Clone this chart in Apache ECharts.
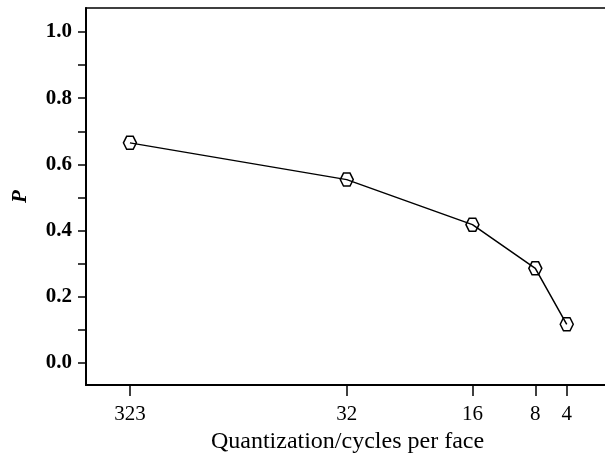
<!DOCTYPE html>
<html>
<head>
<meta charset="utf-8">
<script src="https://cdn.jsdelivr.net/npm/echarts@6/dist/echarts.min.js"></script>
<style>
html,body{margin:0;padding:0;background:#fff;}
#chart{width:605px;height:453px;}
</style>
</head>
<body>
<div id="chart"></div>
<script>
// Quantization categories (cycles per face) and their positions on the printed axis
var categories = ['323', '32', '16', '8', '4'];
var axisPos = [59.6, 32, 16, 8, 4];      // 323 drawn at a compressed position (axis break)
var pValues = [0.665, 0.554, 0.418, 0.286, 0.117];
var yTickValues = [0, 0.1, 0.2, 0.3, 0.4, 0.5, 0.6, 0.7, 0.8, 0.9, 1.0];
var yLabelValues = [0, 0.2, 0.4, 0.6, 0.8, 1.0];

var data = axisPos.map(function (x, i) { return [x, pValues[i]]; });
var labelMap = {};
axisPos.forEach(function (x, i) { labelMap[x] = categories[i]; });

var serif = '"Liberation Serif", "DejaVu Serif", serif';
var chart = echarts.init(document.getElementById('chart'), null, {renderer: 'canvas'});
chart.setOption({
  animation: false,
  backgroundColor: '#fff',
  grid: {
    left: 86, top: 8, right: -4, bottom: 68,
    containLabel: false,
    outerBoundsMode: 'none',
    show: true, borderColor: '#000', borderWidth: 1.5, backgroundColor: 'transparent'
  },
  xAxis: {
    type: 'value',
    inverse: true,
    min: -1.38, max: 65.19,
    name: 'Quantization/cycles per face',
    nameLocation: 'middle',
    nameGap: 43,
    nameTextStyle: {fontFamily: serif, fontSize: 24, color: '#000'},
    axisLine: {show: true, onZero: false, lineStyle: {color: '#000', width: 2}},
    axisTick: {show: true, inside: false, length: 11, customValues: axisPos, lineStyle: {color: '#000', width: 1.5}},
    axisLabel: {
      customValues: axisPos, margin: 19,
      fontFamily: serif, fontSize: 21, color: '#000',
      formatter: function (v) { return labelMap[v] !== undefined ? labelMap[v] : ''; }
    },
    splitLine: {show: false}
  },
  yAxis: {
    type: 'value',
    min: -0.0664, max: 1.0724,
    name: 'P',
    nameLocation: 'middle',
    nameRotate: 90,
    nameGap: 55,
    nameTextStyle: {fontFamily: serif, fontSize: 21, fontWeight: 'bold', fontStyle: 'italic', color: '#000'},
    axisLine: {show: true, onZero: false, lineStyle: {color: '#000', width: 2}},
    axisTick: {show: true, inside: false, length: 8, customValues: yTickValues, lineStyle: {color: '#000', width: 1.5}},
    axisLabel: {
      customValues: yLabelValues, margin: 14,
      fontFamily: serif, fontSize: 21, fontWeight: 'bold', color: '#000',
      formatter: function (v) { return v.toFixed(1); }
    },
    splitLine: {show: false}
  },
  series: [{
    type: 'line',
    data: data,
    symbol: 'path://M-1,0 L-0.5,-0.87 L0.5,-0.87 L1,0 L0.5,0.87 L-0.5,0.87 Z',
    symbolSize: [13, 13],
    lineStyle: {color: '#000', width: 1.5},
    itemStyle: {color: 'transparent', borderColor: '#000', borderWidth: 1.5},
    z: 3
  }]
});
</script>
</body>
</html>
